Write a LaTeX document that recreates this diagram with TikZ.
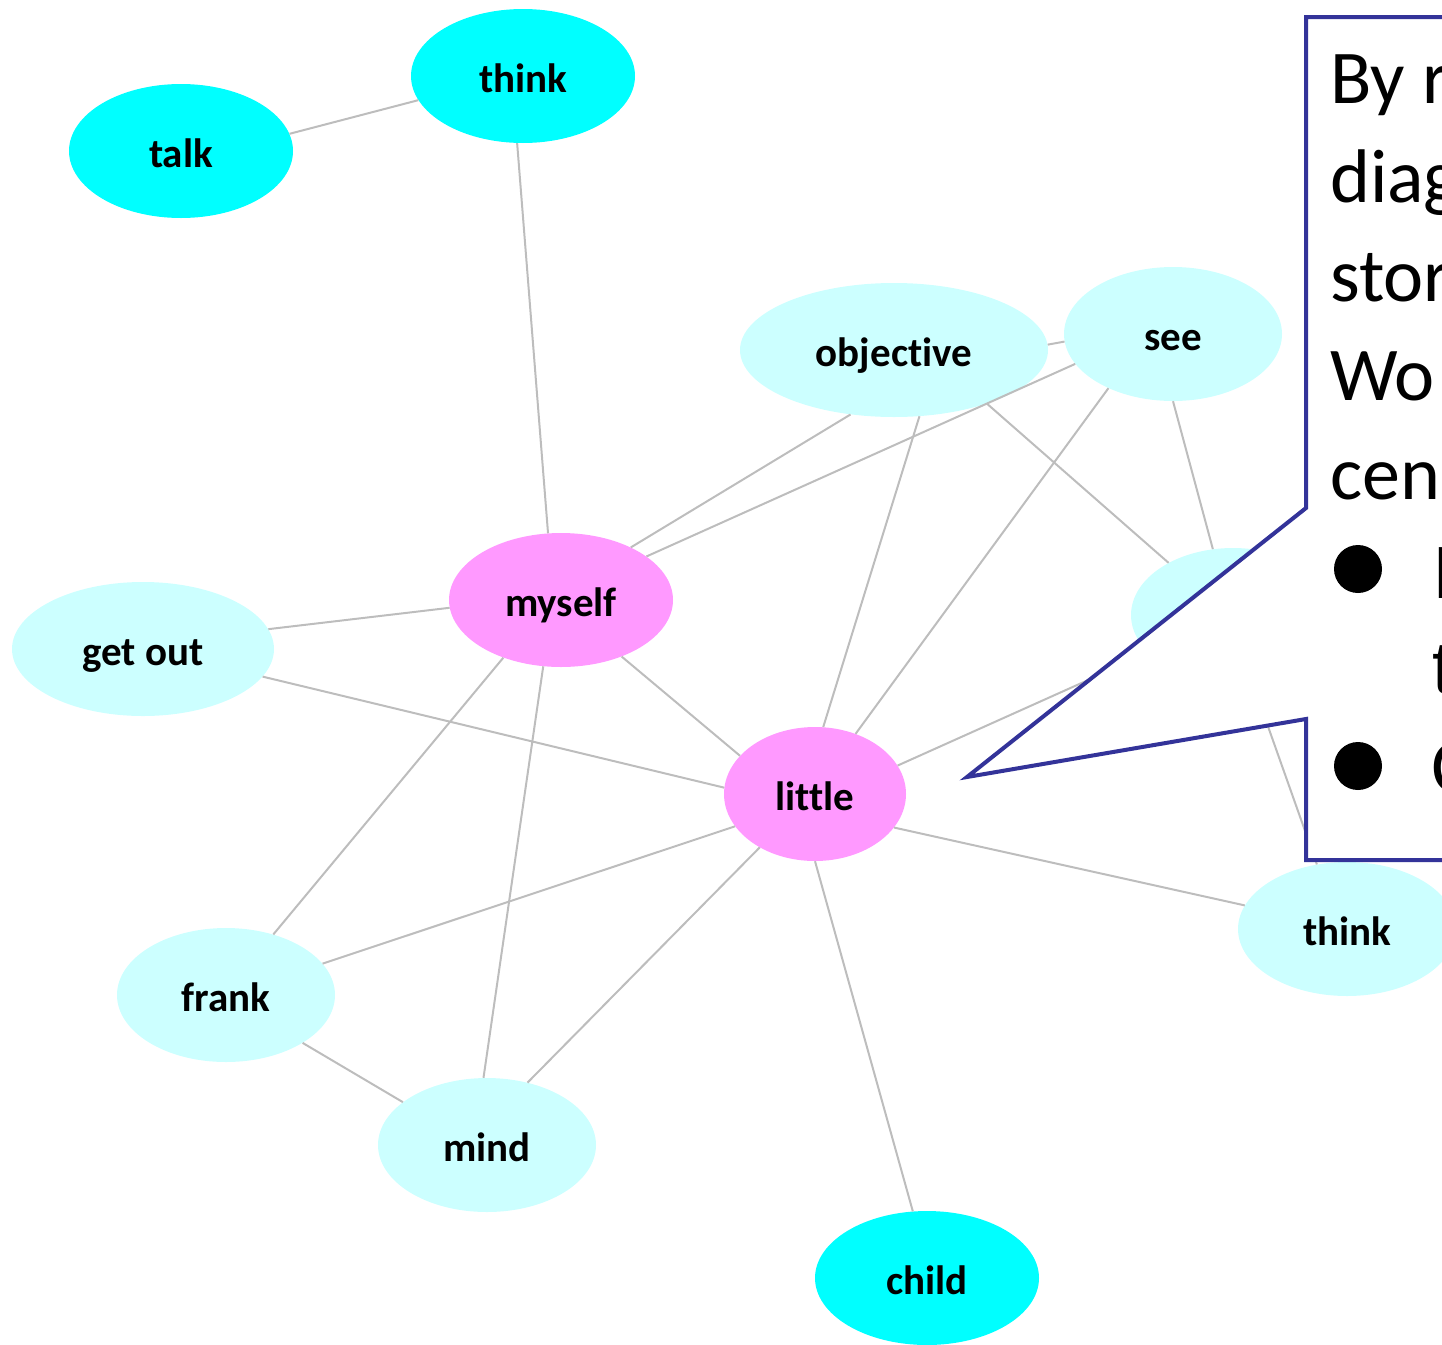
\documentclass[tikz,border=0pt]{standalone}
\usepackage{fontspec}
\setmainfont{Carlito}[Ligatures={TeX,NoCommon}]
\newfontfamily\arialf{Liberation Sans}
\usetikzlibrary{shapes.geometric}
\definecolor{cyanA}{HTML}{00FFFF}
\definecolor{cyanB}{HTML}{CCFFFF}
\definecolor{pinkA}{HTML}{FF99FF}
\definecolor{edgegray}{HTML}{BDBDBD}
\definecolor{callblue}{HTML}{333399}
\tikzset{
  word/.style={ellipse, inner sep=0pt, font=\fontsize{41}{41}\selectfont\bfseries,
    text height=32pt, text depth=0pt, minimum height=134pt},
  dark/.style={word, fill=cyanA},
  light/.style={word, fill=cyanB},
  pinky/.style={word, fill=pinkA},
  link/.style={draw=edgegray, line width=2pt},
  callout/.style={draw=callblue, fill=white, line width=4pt, line join=miter},
  calltext/.style={anchor=base west, inner sep=0pt, font=\fontsize{76}{76}\selectfont},
  bullettext/.style={anchor=base west, inner sep=0pt, font=\arialf\fontsize{74}{74}\selectfont},
}
\begin{document}
\begin{tikzpicture}[x=1pt, y=-1pt]
\useasboundingbox (0,0) rectangle (1442,1344);
% nodes
\node[dark,  minimum width=224pt] (talk)   at (181,151) {talk};
\node[dark,  minimum width=224pt] (think1) at (523,76)  {think};
\node[light, minimum width=308pt] (obj)    at (894,350) {objective};
\node[light, minimum width=218pt] (see)    at (1173,334) {see};
\node[light, minimum width=204pt] (hid)    at (1233,615) {};
\node[light, minimum width=262pt] (getout) at (143,649) {get out};
\node[pinky, minimum width=224pt] (myself) at (561,600) {myself};
\node[pinky, minimum width=182pt] (little) at (815,794) {little};
\node[light, minimum width=218pt] (think2) at (1347,929) {think};
\node[light, minimum width=218pt] (frank)  at (226,995) {frank};
\node[light, minimum width=218pt] (mind)   at (487,1145) {mind};
\node[dark,  minimum width=224pt] (child)  at (927,1278) {child};
% edges
\draw[link] (talk.9.5) -- (think1.193);
\draw[link] (think1.265) -- (myself.101);
\draw[link] (obj.2) -- (see.184);
\draw[link] (obj.236) -- (myself.37);
\draw[link] (see.197.5) -- (myself.27);
\draw[link] (obj.291) -- (little.83);
\draw[link] (see.220.6) -- (little.56);
\draw[link] (obj.330) -- (hid.141.6);
\draw[link] (see.270) -- (hid.107);
\draw[link] (hid.286) -- (think2.115);
\draw[link] (little.19.5) -- (hid);
\draw[link] (getout.9) -- (myself.184.6);
\draw[link] (getout.347) -- (little.176);
\draw[link] (myself.317) -- (little.153.7);
\draw[link] (myself.225.5) -- (frank.52.8);
\draw[link] (myself.255) -- (mind.93.5);
\draw[link] (little.202.6) -- (frank.18.3);
\draw[link] (little.224) -- (mind.57);
\draw[link] (little.270) -- (child.102);
\draw[link] (little.337.5) -- (think2.167.5);
\draw[link] (frank.328) -- (mind.153);
% callout
\coordinate (tip) at (967,777);
\draw[callout] (1306,17) -- (1306,508) -- (tip) -- (1306,719) -- (1306,860) -- (1470,860) -- (1470,17) -- cycle;
\node[calltext] (l1) at (1330,103) {By r};
\node[calltext] (l2) at (1330,202) {diag};
\node[calltext] (l3) at (1330,301) {stor};
\node[calltext] (l4) at (1330,400) {Wo};
\node[calltext] (l5) at (1330,499) {cen};
\fill (1358,569) circle (24pt);
\fill (1358,766) circle (24pt);
\node[bullettext] (b1) at (1432,598) {I};
\node[bullettext] (b1b) at (1432,693) {t};
\node[bullettext] (b2) at (1430,793) {C};
\end{tikzpicture}
\end{document}
